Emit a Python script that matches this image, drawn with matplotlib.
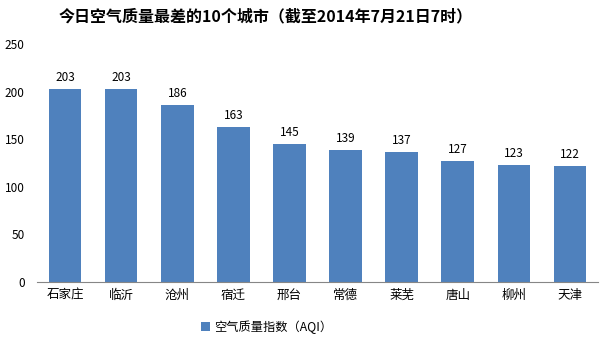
import matplotlib
matplotlib.use('Agg')
import matplotlib.pyplot as plt

plt.rcParams['font.family'] = ['Noto Sans CJK SC', 'DejaVu Sans']

cities = ['石家庄', '临沂', '沧州', '宿迁', '邢台', '常德', '莱芜', '唐山', '柳州', '天津']
aqi = [203, 203, 186, 163, 145, 139, 137, 127, 123, 122]
yticks = [0, 50, 100, 150, 200, 250]

bar_color = '#4F81BD'

fig = plt.figure(figsize=(6.03, 3.37), dpi=100)
ax = fig.add_axes([0.0614, 0.1632, 0.9303, 0.7062])

x = list(range(len(cities)))
bars = ax.bar(x, aqi, width=0.58, color=bar_color, label='空气质量指数（AQI）')

# 柱顶数值
for xi, v in zip(x, aqi):
    ax.text(xi, v + 5, str(v), ha='center', va='bottom', fontsize=8.5, color='black')

ax.set_xlim(-0.5, len(cities) - 0.5)
ax.set_ylim(0, 250)
ax.set_yticks(yticks)
ax.set_yticklabels([str(t) for t in yticks], fontsize=8.5)
ax.set_xticks(x)
ax.set_xticklabels(cities, fontsize=9)
ax.tick_params(axis='x', length=0, pad=5)
ax.tick_params(axis='y', length=0, pad=9)

for side in ['top', 'right', 'left']:
    ax.spines[side].set_visible(False)
ax.spines['bottom'].set_color('#868686')
ax.spines['bottom'].set_linewidth(0.8)

fig.suptitle('今日空气质量最差的10个城市（截至2014年7月21日7时）',
             fontsize=11.5, fontweight='bold', x=0.44, y=0.975)

fig.legend(handles=[bars], labels=['空气质量指数（AQI）'], loc='center',
           bbox_to_anchor=(0.442, 0.03), frameon=False, fontsize=8.8,
           handlelength=0.7, handleheight=0.7, handletextpad=0.3)

fig.savefig('out.png', dpi=100)
